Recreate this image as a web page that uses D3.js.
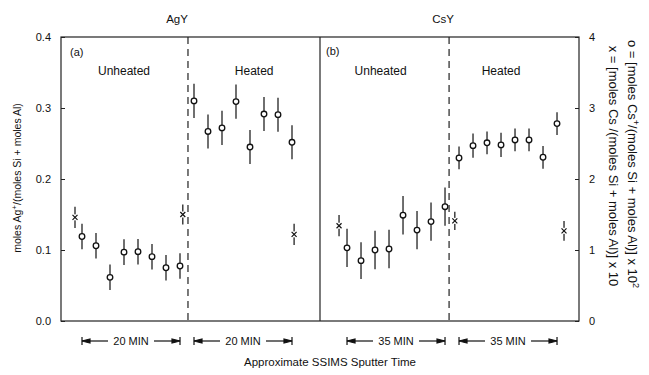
<!DOCTYPE html>
<html>
<head>
<meta charset="utf-8">
<script src="https://cdn.jsdelivr.net/npm/d3@7/dist/d3.min.js"></script>
<style>
  body { margin: 0; background: #fff; }
  svg text { font-family: "Liberation Sans", "DejaVu Sans", sans-serif; fill: #111; }
</style>
</head>
<body>
<div id="chart"></div>
<script>
// measurement index along the sputter-time axis (o points sit on 0..7 and 8..15)
const unheatedIdx = [0, 1, 2, 3, 4, 5, 6, 7];
const heatedIdx = [8, 9, 10, 11, 12, 13, 14, 15];

// panel (a) AgY, left axis
const agUnheated = [0.119, 0.106, 0.0615, 0.097, 0.0976, 0.0906, 0.075, 0.0775];
const agUnheatedErr = [0.018, 0.018, 0.018, 0.018, 0.018, 0.018, 0.018, 0.018];
const agHeated = [0.310, 0.267, 0.272, 0.309, 0.245, 0.2915, 0.2906, 0.2517];
const agHeatedErr = [0.024, 0.024, 0.024, 0.024, 0.024, 0.024, 0.024, 0.024];
const agCrossIdx = [-0.5, 7.2, 15.15];
const agCross = [0.146, 0.150, 0.122];
const agCrossErr = [0.015, 0.014, 0.015];

// panel (b) CsY, right axis
const csUnheated = [1.03, 0.85, 1.0, 1.014, 1.49, 1.28, 1.40, 1.61];
const csUnheatedErr = [0.27, 0.26, 0.27, 0.27, 0.27, 0.27, 0.27, 0.27];
const csHeated = [2.296, 2.47, 2.51, 2.48, 2.55, 2.55, 2.306, 2.78];
const csHeatedErr = [0.16, 0.17, 0.16, 0.17, 0.16, 0.16, 0.16, 0.16];
const csCrossIdx = [-0.57, 7.7, 15.5];
const csCross = [1.342, 1.41, 1.27];
const csCrossErr = [0.15, 0.13, 0.14];

const leftTicks = [0, 0.1, 0.2, 0.3, 0.4];
const rightTicks = [0, 1, 2, 3, 4];
const dividerIdx = [7.57, 7.29];
const bracketLabels = ['20 MIN', '35 MIN'];

const W = 649, H = 375;
const plotTop = 37, plotBottom = 321, plotLeft = 61, plotMid = 320, plotRight = 579;

const svg = d3.select('#chart').append('svg')
  .attr('width', W).attr('height', H);

const yA = d3.scaleLinear().domain([0, 0.4]).range([plotBottom, plotTop]);
const yB = d3.scaleLinear().domain([0, 4]).range([plotBottom, plotTop]);
const xA = d3.scaleLinear().domain([-1.5, 17]).range([plotLeft, plotMid]);
const xB = d3.scaleLinear().domain([-1.93, 16.57]).range([plotMid, plotRight]);

// frame
svg.append('rect')
  .attr('x', plotLeft).attr('y', plotTop)
  .attr('width', plotRight - plotLeft).attr('height', plotBottom - plotTop)
  .attr('fill', 'none').attr('stroke', '#222').attr('stroke-width', 1.2);
svg.append('line')
  .attr('x1', plotMid).attr('x2', plotMid).attr('y1', plotTop).attr('y2', plotBottom)
  .attr('stroke', '#222').attr('stroke-width', 1.2);

// axes
const axL = svg.append('g').attr('transform', `translate(${plotLeft},0)`)
  .call(d3.axisLeft(yA).tickValues(leftTicks).tickFormat(d3.format('.1f'))
    .tickSize(-4).tickSizeOuter(0).tickPadding(10));
const axR = svg.append('g').attr('transform', `translate(${plotRight},0)`)
  .call(d3.axisRight(yB).tickValues(rightTicks).tickFormat(d3.format('d'))
    .tickSize(-4).tickSizeOuter(0).tickPadding(10));
[axL, axR].forEach(g => {
  g.select('.domain').remove();
  g.selectAll('line').attr('stroke', '#222');
  g.selectAll('text').style('font-size', '11px')
    .style('font-family', '"Liberation Sans", sans-serif').attr('fill', '#111');
});

// dashed dividers
svg.append('line')
  .attr('x1', xA(dividerIdx[0])).attr('x2', xA(dividerIdx[0]))
  .attr('y1', plotTop).attr('y2', plotBottom)
  .attr('stroke', '#222').attr('stroke-width', 1.2).attr('stroke-dasharray', '7,5');
svg.append('line')
  .attr('x1', xB(dividerIdx[1])).attr('x2', xB(dividerIdx[1]))
  .attr('y1', plotTop).attr('y2', plotBottom)
  .attr('stroke', '#222').attr('stroke-width', 1.2).attr('stroke-dasharray', '7,5');

function drawPoints(x, y, idx, vals, errs, kind) {
  const rows = idx.map((k, i) => ({ k: k, v: vals[i], e: errs[i] }));
  const g = svg.append('g');
  g.selectAll('line.err').data(rows).enter().append('line')
    .attr('class', 'err')
    .attr('x1', d => x(d.k)).attr('x2', d => x(d.k))
    .attr('y1', d => y(d.v - d.e)).attr('y2', d => y(d.v + d.e))
    .attr('stroke', '#222').attr('stroke-width', 1.3);
  if (kind === 'o') {
    g.selectAll('circle').data(rows).enter().append('circle')
      .attr('cx', d => x(d.k)).attr('cy', d => y(d.v)).attr('r', 2.8)
      .attr('fill', '#fff').attr('stroke', '#111').attr('stroke-width', 1.3);
  } else {
    const c = g.selectAll('g.cross').data(rows).enter().append('g')
      .attr('transform', d => `translate(${x(d.k)},${y(d.v)})`);
    c.append('rect').attr('x', -3).attr('y', -3).attr('width', 6).attr('height', 6).attr('fill', '#fff');
    c.append('path').attr('d', 'M-2.5,-2.5L2.5,2.5M-2.5,2.5L2.5,-2.5')
      .attr('stroke', '#111').attr('stroke-width', 1.2);
  }
}

drawPoints(xA, yA, unheatedIdx, agUnheated, agUnheatedErr, 'o');
drawPoints(xA, yA, heatedIdx, agHeated, agHeatedErr, 'o');
drawPoints(xA, yA, agCrossIdx, agCross, agCrossErr, 'x');
drawPoints(xB, yB, unheatedIdx, csUnheated, csUnheatedErr, 'o');
drawPoints(xB, yB, heatedIdx, csHeated, csHeatedErr, 'o');
drawPoints(xB, yB, csCrossIdx, csCross, csCrossErr, 'x');

// titles and panel labels
const txt = (x, y, s, size, anchor) => svg.append('text')
  .attr('x', x).attr('y', y).attr('text-anchor', anchor || 'middle')
  .style('font-size', (size || 11) + 'px').text(s);
txt(177, 23, 'AgY', 11.5);
txt(443, 23, 'CsY', 11.5);
txt(70, 56, '(a)', 11, 'start');
txt(326, 55, '(b)', 11, 'start');
txt(xA(3), 75, 'Unheated', 12);
txt(xA(12.3), 75, 'Heated', 12);
txt(xB(2.4), 75, 'Unheated', 12);
txt(xB(11), 75, 'Heated', 12);

// time brackets
function bracket(x, a, b, label) {
  const x1 = x(a), x2 = x(b), cx = (x1 + x2) / 2, y = 341;
  const g = svg.append('g').attr('stroke', '#111').attr('stroke-width', 1.2);
  g.append('line').attr('x1', x1).attr('x2', x1).attr('y1', y - 4).attr('y2', y + 4);
  g.append('line').attr('x1', x2).attr('x2', x2).attr('y1', y - 4).attr('y2', y + 4);
  g.append('line').attr('x1', x1).attr('x2', cx - 23).attr('y1', y).attr('y2', y);
  g.append('line').attr('x1', cx + 23).attr('x2', x2).attr('y1', y).attr('y2', y);
  g.append('path').attr('d', `M${x1},${y}L${x1 + 8},${y - 2}L${x1 + 8},${y + 2}Z`).attr('fill', '#111');
  g.append('path').attr('d', `M${x2},${y}L${x2 - 8},${y - 2}L${x2 - 8},${y + 2}Z`).attr('fill', '#111');
  txt(cx, y + 4, label, 11);
}
bracket(xA, unheatedIdx[0], unheatedIdx[7], bracketLabels[0]);
bracket(xA, heatedIdx[0], heatedIdx[7], bracketLabels[0]);
bracket(xB, unheatedIdx[0], unheatedIdx[7], bracketLabels[1]);
bracket(xB, heatedIdx[0], heatedIdx[7], bracketLabels[1]);

txt(330, 366, 'Approximate SSIMS Sputter Time', 11.5);

// left axis label
const yl = svg.append('text').attr('transform', 'translate(21,178) rotate(-90)')
  .attr('text-anchor', 'middle').style('font-size', '10.5px');
yl.append('tspan').text('moles Ag');
yl.append('tspan').attr('dy', -4).style('font-size', '8px').text('+');
yl.append('tspan').attr('dy', 4).text('/(moles Si + moles Al)');

// right axis labels
const r1 = svg.append('text').attr('transform', 'translate(628,164) rotate(90)')
  .attr('text-anchor', 'middle').style('font-size', '13px');
r1.append('tspan').text('o = [moles Cs');
r1.append('tspan').attr('dy', -5).style('font-size', '9px').text('+');
r1.append('tspan').attr('dy', 5).text('/(moles Si + moles Al)] x 10');
r1.append('tspan').attr('dy', -5).style('font-size', '9px').text('2');
const r2 = svg.append('text').attr('transform', 'translate(609,166) rotate(90)')
  .attr('text-anchor', 'middle').style('font-size', '13px');
r2.append('tspan').text('x = [moles Cs /(moles Si + moles Al)] x 10');
</script>
</body>
</html>
